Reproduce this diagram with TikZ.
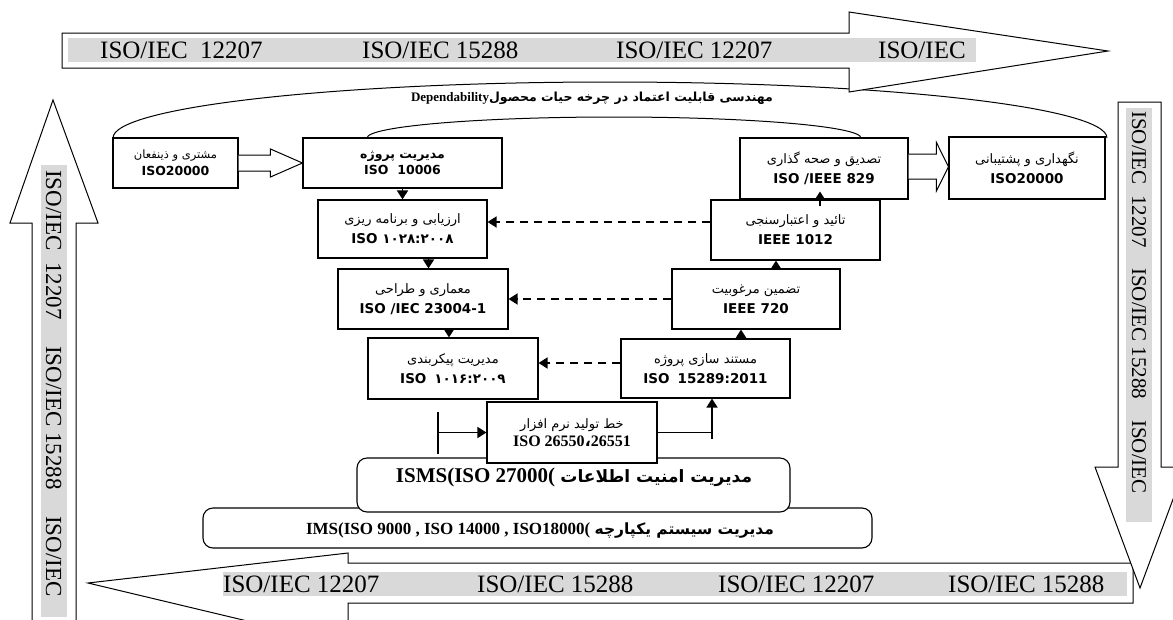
\documentclass[tikz,border=0pt]{standalone}
\usepackage{fontspec}
\setmainfont{Liberation Serif}
\newfontfamily\fa[Script=Arabic]{DejaVu Sans}
\newfontfamily\lsans{DejaVu Sans}
\usetikzlibrary{arrows.meta,calc}
\TeXXeTstate=1
\definecolor{bandgray}{RGB}{217,217,217}
\newcommand{\farg}[1]{{\fa\fontsize{13}{15}\selectfont\beginR #1\endR}}
\newcommand{\fabd}[1]{{\fa\bfseries\fontsize{12.5}{14}\selectfont\beginR #1\endR}}
\newcommand{\latbd}[1]{{\lsans\bfseries\fontsize{13.5}{15}\selectfont #1}}
\begin{document}
\begin{tikzpicture}[x=1pt,y=-1pt,
  box/.style={draw, line width=1.1pt, fill=white, align=center, inner sep=0pt},
  conn/.style={line width=1.6pt, -{Triangle[width=11pt,length=9pt]}},
  dconn/.style={conn, dash pattern=on 8pt off 6pt},
  plainline/.style={line width=1.6pt},
  bigarrow/.style={draw, line width=1pt, fill=white, line join=miter},
  hollow/.style={draw, line width=1pt, fill=white, line join=miter},
  bandfill/.style={fill=bandgray},
  bandtext/.style={font=\fontsize{25}{25}\selectfont, inner sep=0pt},
  vbandtext/.style={font=\fontsize{23}{23}\selectfont, inner sep=0pt, rotate=-90},
  rbandtext/.style={font=\fontsize{21}{21}\selectfont, inner sep=0pt, rotate=-90},
  rbox/.style={draw, line width=1.1pt, fill=white, rounded corners=10pt},
  arcline/.style={line width=1pt}
]
\useasboundingbox (0,0) rectangle (1173,619);

% arcs
\draw[arcline] (113,138) .. controls (113,107.1) and (335.5,82) .. (610,82)
  .. controls (884.5,82) and (1107,107.1) .. (1107,138);
\draw[arcline] (367,138) .. controls (367,126.4) and (477.6,117) .. (614,117)
  .. controls (750.4,117) and (861,126.4) .. (861,138);
\node[inner sep=0pt] (dep) at (592,98) {\bfseries\beginR{\fa\fontsize{12.5}{14}\selectfont مهندسی قابلیت اعتماد در چرخه حیات محصول}\beginL{\fontsize{13}{14}\selectfont Dependability}\endL\endR};

% top arrow
\draw[bigarrow] (62,33) -- (849,33) -- (849,12) -- (1108,51) -- (849,92) -- (849,68) -- (62,68) -- cycle;
\fill[bandfill] (68,38) rectangle (976,62);
\node[bandtext, anchor=base west] (t1) at (100,58) {ISO/IEC\ \ 12207};
\node[bandtext, anchor=base west] (t2) at (362,58) {ISO/IEC 15288};
\node[bandtext, anchor=base west] (t3) at (616,58) {ISO/IEC 12207};
\node[bandtext, anchor=base west] (t4) at (878,58) {ISO/IEC};

% left arrow
\draw[bigarrow] (32,630) -- (32,223) -- (10,223) -- (53,100) -- (98,223) -- (76,223) -- (76,630) -- cycle;
\fill[bandfill] (41,165) rectangle (67,617);
\node[vbandtext, anchor=base west] (l1) at (46,170) {ISO/IEC\ \ 12207};
\node[vbandtext, anchor=base west] (l2) at (46,346) {ISO/IEC 15288};
\node[vbandtext, anchor=base west] (l3) at (46,516) {ISO/IEC};

% bottom arrow
\draw[bigarrow] (1133,563) -- (348,563) -- (348,553) -- (88,583) -- (348,645) -- (348,603) -- (1133,603) -- cycle;
\fill[bandfill] (223,572) rectangle (1127,596);
\node[bandtext, anchor=base west] (b1) at (223,592) {ISO/IEC 12207};
\node[bandtext, anchor=base west] (b2) at (477,592) {ISO/IEC 15288};
\node[bandtext, anchor=base west] (b3) at (718,592) {ISO/IEC 12207};
\node[bandtext, anchor=base west] (b4) at (948,592) {ISO/IEC 15288};

% right arrow
\draw[bigarrow] (1118,102) -- (1161,102) -- (1161,467) -- (1185,467) -- (1140,588) -- (1095,467) -- (1118,467) -- cycle;
\fill[bandfill] (1126,108) rectangle (1152,522);
\node[rbandtext, anchor=base west] (r1) at (1132,111) {ISO/IEC\ \ 12207};
\node[rbandtext, anchor=base west] (r2) at (1132,268) {ISO/IEC 15288};
\node[rbandtext, anchor=base west] (r3) at (1132,420) {ISO/IEC};

% rounded management boxes
\draw[rbox] (203,508) rectangle (872,548);
\node[inner sep=0pt] (ims) at (540,530) {\bfseries\fontsize{17}{19}\selectfont\beginR{\fa\fontsize{15.5}{17}\selectfont مدیریت سیستم یکپارچه} (\beginL IMS(ISO 9000 , ISO 14000 , ISO18000\endL\endR};
\draw[rbox] (357,458) rectangle (790,512);
\node[inner sep=0pt] (isms) at (574,477) {\bfseries\fontsize{21}{23}\selectfont\beginR{\fa\fontsize{17}{19}\selectfont مدیریت امنیت اطلاعات} (\beginL ISMS(ISO 27000\endL\endR};

% left column boxes
\node[box, minimum width=125pt, minimum height=50pt] (cust) at (175.5,163)
  {\farg{\fontsize{11.5}{13}\selectfont مشتری و ذینفعان}\\[4pt]\latbd{\fontsize{12.5}{14}\selectfont ISO20000}};
\node[box, minimum width=199pt, minimum height=50pt] (pm) at (402.5,163)
  {\fabd{مدیریت پروژه}\\[2pt]\latbd{\fontsize{12.5}{14}\selectfont ISO\hspace{9pt}10006}};
\node[box, minimum width=169pt, minimum height=58pt] (plan) at (402.5,229)
  {\farg{ارزیابی و برنامه ریزی}\\[6pt]\latbd{ISO {\fa ۱۰۲۸:۲۰۰۸}}};
\node[box, minimum width=170pt, minimum height=60pt] (arch) at (423,299)
  {\farg{معماری و طراحی}\\[6pt]\latbd{ISO /IEC 23004-1}};
\node[box, minimum width=170pt, minimum height=61pt] (conf) at (453,368.5)
  {\farg{مدیریت پیکربندی}\\[6pt]\latbd{ISO\hspace{8pt}{\fa ۱۰۱۶:۲۰۰۹}}};
\node[box, minimum width=170pt, minimum height=61pt] (spl) at (572,432.5)
  {\farg{خط تولید نرم افزار}\\[3pt]{\bfseries\fontsize{16}{18}\selectfont ISO 26550{\fa ،}26551}};

% right column boxes
\node[box, minimum width=168pt, minimum height=61pt] (val) at (824,168.5)
  {\farg{تصدیق و صحه گذاری}\\[6pt]\latbd{ISO /IEEE 829}};
\node[box, minimum width=156pt, minimum height=62pt] (maint) at (1027,168)
  {\farg{نگهداری و پشتیبانی}\\[6pt]\latbd{ISO20000}};
\node[box, minimum width=169pt, minimum height=60pt] (vv) at (795.5,230)
  {\farg{تائید و اعتبارسنجی}\\[6pt]\latbd{IEEE 1012}};
\node[box, minimum width=168pt, minimum height=60pt] (qa) at (756,299)
  {\farg{تضمین مرغوبیت}\\[6pt]\latbd{IEEE 720}};
\node[box, minimum width=169pt, minimum height=59pt] (doc) at (705.5,368.5)
  {\farg{مستند سازی پروژه}\\[6pt]\latbd{ISO\hspace{8pt}15289:2011}};

% hollow arrows
\draw[hollow] ($(cust.east)+(0,-8)$) -- ($(pm.west)+(-32,-8)$) -- ($(pm.west)+(-32,-14)$)
  -- (pm.west) -- ($(pm.west)+(-32,14)$) -- ($(pm.west)+(-32,8)$) -- ($(cust.east)+(0,8)$);
\coordinate (hv) at ($(maint.west)+(0,-1.3)$);
\coordinate (hs1) at ($(val.east)+(0,-14.3)$);
\coordinate (hs2) at ($(val.east)+(0,10.7)$);
\draw[hollow] (hs1) -- ($(hv)+(-12,-12.5)$) -- ($(hv)+(-12,-24.2)$)
  -- (hv) -- ($(hv)+(-12,24.2)$) -- ($(hv)+(-12,12.5)$) -- (hs2);

% down arrows, left column
\coordinate (d1) at ($(plan.south)+(26,0)$);
\coordinate (d2) at ($(arch.south)+(26,0)$);
\draw[conn] (pm.south) -- (plan.north);
\draw[conn] (d1) -- (d1 |- arch.north);
\draw[conn] (d2) -- (d2 |- conf.north);

% up arrows, right column
\coordinate (u1) at ($(doc.north)+(35.5,0)$);
\coordinate (u2) at ($(qa.north)+(20,0)$);
\coordinate (u3s) at ($(vv.north)+(24.5,7)$);
\coordinate (u3e) at ($(vv.north)+(24.5,-8)$);
\draw[conn] (u1) -- (u1 |- qa.south);
\draw[conn] (u2) -- (u2 |- vv.south);
\draw[conn] (u3s) -- (u3e);

% dashed arrows
\coordinate (e1) at ($(vv.west)+(0,-8)$);
\coordinate (e3) at ($(doc.west)+(0,-5.5)$);
\draw[dconn] (e1) -- (e1 -| plan.east);
\draw[dconn] (qa.west) -- (qa.west -| arch.east);
\draw[dconn] (e3) -- (e3 -| conf.east);

% product line connectors
\coordinate (bl) at (438,432.5);
\coordinate (br) at (712,432.5);
\draw[plainline] ($(bl)+(0,-21)$) -- ($(bl)+(0,21)$);
\draw[conn] (bl) -- (spl.west);
\draw[plainline] (spl.east) -- (br);
\draw[conn] ($(br)+(0,6)$) -- (br |- doc.south);
\end{tikzpicture}
\end{document}
